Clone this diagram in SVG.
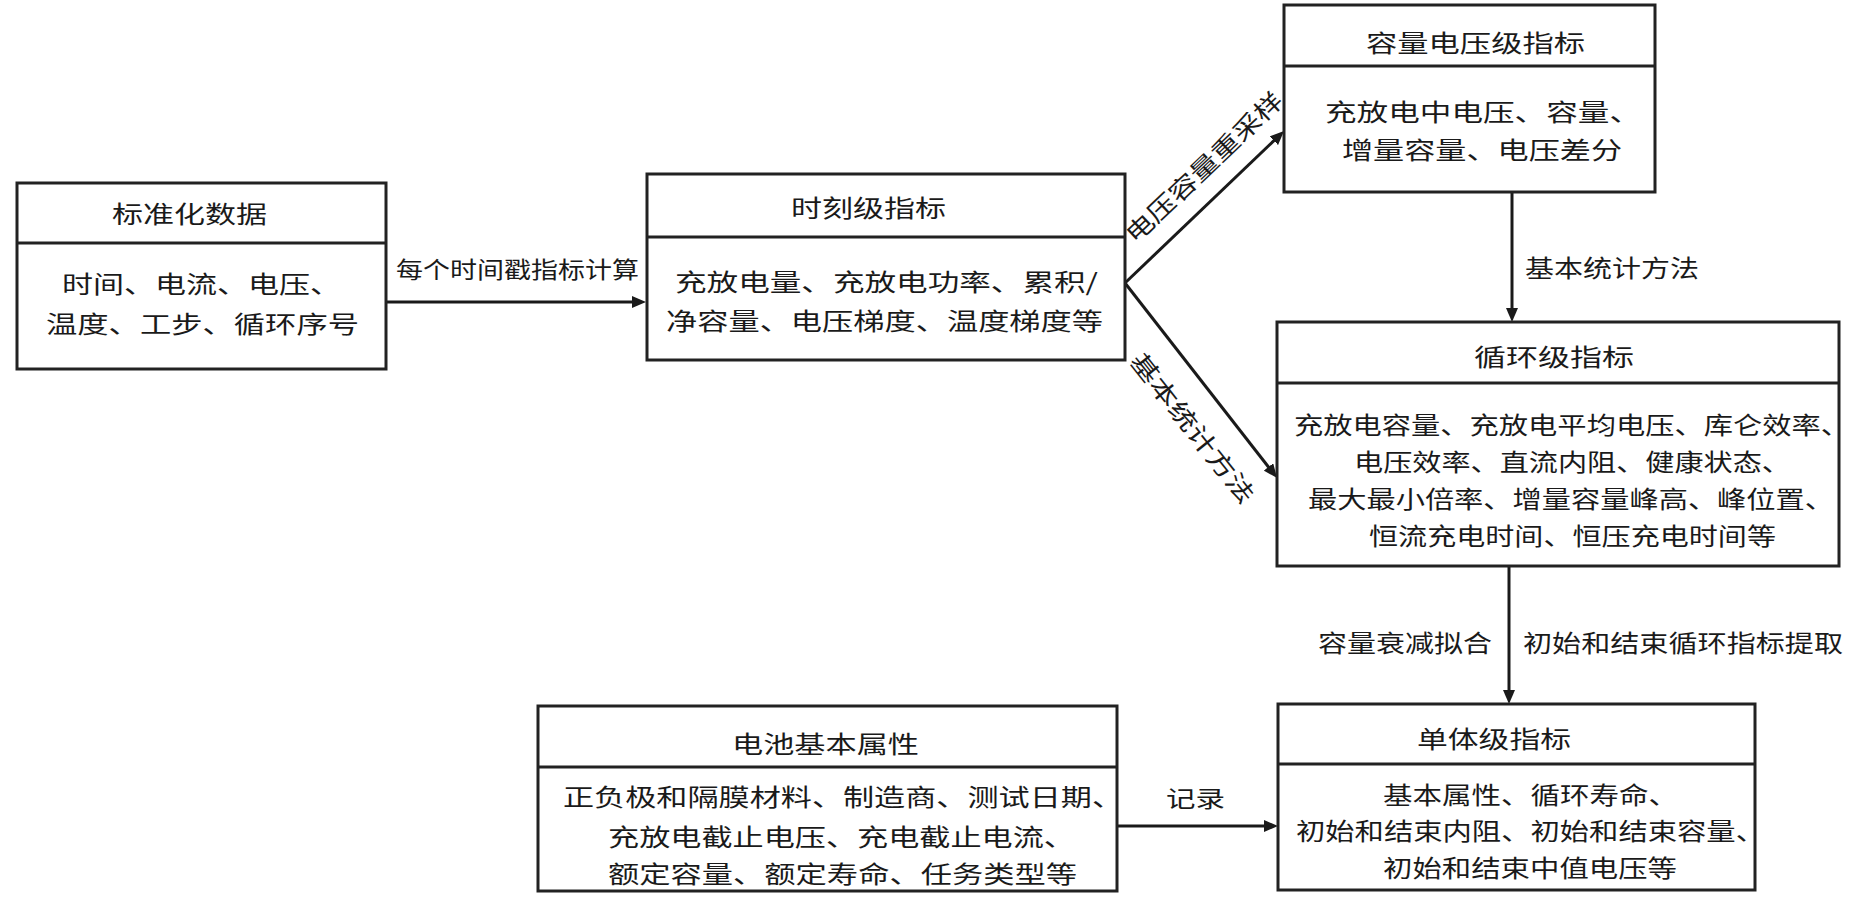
<svg xmlns="http://www.w3.org/2000/svg" width="1855" height="903" viewBox="0 0 1855 903">
<defs>
<style>
.box{fill:#fff;stroke:#222;stroke-width:3}
.div{stroke:#222;stroke-width:3}
.t{font-family:"Noto Sans CJK SC","Noto Sans CJK JP",sans-serif;font-size:24px;fill:#1a1a1a;dominant-baseline:central}
.lb{font-size:23px}
.con{stroke:#1a1a1a;stroke-width:3;fill:none;marker-end:url(#ah)}
</style>
<marker id="ah" markerUnits="userSpaceOnUse" markerWidth="14" markerHeight="12" refX="9" refY="6" orient="auto">
<path d="M0,0 L14,6 L0,12 z" fill="#1a1a1a"/>
</marker>
</defs>
<rect width="1855" height="903" fill="#fff"/>

<g id="connectors">
<line class="con" x1="386" y1="302" x2="641" y2="302"/>
<line class="con" x1="1125" y1="283" x2="1280.4" y2="134.5"/>
<line class="con" x1="1125" y1="283" x2="1274" y2="474"/>
<line class="con" x1="1512" y1="192" x2="1512" y2="317"/>
<line class="con" x1="1509" y1="566" x2="1509" y2="699"/>
<line class="con" x1="1117" y1="826" x2="1273" y2="826"/>
<text class="t lb" x="396" y="268" textLength="243" lengthAdjust="spacingAndGlyphs">每个时间戳指标计算</text>
<text class="t" x="1203" y="166" text-anchor="middle" textLength="206" lengthAdjust="spacingAndGlyphs" transform="rotate(-43.5 1203 166)">电压容量重采样</text>
<text class="t" x="1194" y="427" text-anchor="middle" textLength="184" lengthAdjust="spacingAndGlyphs" transform="rotate(51.6 1194 427)">基本统计方法</text>
<text class="t" x="1525" y="266" textLength="174" lengthAdjust="spacingAndGlyphs">基本统计方法</text>
<text class="t" x="1318" y="641" textLength="174" lengthAdjust="spacingAndGlyphs">容量衰减拟合</text>
<text class="t" x="1523" y="641" textLength="320" lengthAdjust="spacingAndGlyphs">初始和结束循环指标提取</text>
<text class="t lb" x="1166" y="797" textLength="59" lengthAdjust="spacingAndGlyphs">记录</text>
</g>

<g id="node-std">
<rect class="box" x="17" y="183" width="369" height="186"/>
<line class="div" x1="17" y1="243" x2="386" y2="243"/>
<text class="t" x="112" y="212.5" textLength="155" lengthAdjust="spacingAndGlyphs">标准化数据</text>
<text class="t" x="62" y="282" textLength="279" lengthAdjust="spacingAndGlyphs">时间、电流、电压、</text>
<text class="t" x="46" y="322.5" textLength="313" lengthAdjust="spacingAndGlyphs">温度、工步、循环序号</text>
</g>

<g id="node-moment">
<rect class="box" x="647" y="174" width="478" height="186"/>
<line class="div" x1="647" y1="237" x2="1125" y2="237"/>
<text class="t" x="791" y="206.5" textLength="155" lengthAdjust="spacingAndGlyphs">时刻级指标</text>
<text class="t" x="675" y="280" textLength="423" lengthAdjust="spacingAndGlyphs">充放电量、充放电功率、累积/</text>
<text class="t" x="666" y="319" textLength="437" lengthAdjust="spacingAndGlyphs">净容量、电压梯度、温度梯度等</text>
</g>

<g id="node-cv">
<rect class="box" x="1284" y="5" width="371" height="187"/>
<line class="div" x1="1284" y1="66" x2="1655" y2="66"/>
<text class="t" x="1366" y="41" textLength="219" lengthAdjust="spacingAndGlyphs">容量电压级指标</text>
<text class="t" x="1325" y="110" textLength="316" lengthAdjust="spacingAndGlyphs">充放电中电压、容量、</text>
<text class="t" x="1342" y="148" textLength="280" lengthAdjust="spacingAndGlyphs">增量容量、电压差分</text>
</g>

<g id="node-cycle">
<rect class="box" x="1277" y="322" width="562" height="244"/>
<line class="div" x1="1277" y1="383" x2="1839" y2="383"/>
<text class="t" x="1474" y="355" textLength="160" lengthAdjust="spacingAndGlyphs">循环级指标</text>
<text class="t" x="1294" y="423" textLength="556" lengthAdjust="spacingAndGlyphs">充放电容量、充放电平均电压、库仑效率、</text>
<text class="t" x="1354" y="460" textLength="437" lengthAdjust="spacingAndGlyphs">电压效率、直流内阻、健康状态、</text>
<text class="t" x="1308" y="497" textLength="526" lengthAdjust="spacingAndGlyphs">最大最小倍率、增量容量峰高、峰位置、</text>
<text class="t" x="1369" y="534" textLength="407" lengthAdjust="spacingAndGlyphs">恒流充电时间、恒压充电时间等</text>
</g>

<g id="node-cell">
<rect class="box" x="1278" y="704" width="477" height="186"/>
<line class="div" x1="1278" y1="764" x2="1755" y2="764"/>
<text class="t" x="1417" y="737" textLength="154" lengthAdjust="spacingAndGlyphs">单体级指标</text>
<text class="t" x="1383" y="793" textLength="295" lengthAdjust="spacingAndGlyphs">基本属性、循环寿命、</text>
<text class="t" x="1296" y="829" textLength="469" lengthAdjust="spacingAndGlyphs">初始和结束内阻、初始和结束容量、</text>
<text class="t" x="1383" y="866" textLength="294" lengthAdjust="spacingAndGlyphs">初始和结束中值电压等</text>
</g>

<g id="node-attr">
<rect class="box" x="538" y="706" width="579" height="185"/>
<line class="div" x1="538" y1="767" x2="1117" y2="767"/>
<text class="t" x="732" y="742" textLength="187" lengthAdjust="spacingAndGlyphs">电池基本属性</text>
<text class="t" x="563" y="795" textLength="560" lengthAdjust="spacingAndGlyphs">正负极和隔膜材料、制造商、测试日期、</text>
<text class="t" x="608" y="835" textLength="467" lengthAdjust="spacingAndGlyphs">充放电截止电压、充电截止电流、</text>
<text class="t" x="608" y="872" textLength="469" lengthAdjust="spacingAndGlyphs">额定容量、额定寿命、任务类型等</text>
</g>
</svg>
